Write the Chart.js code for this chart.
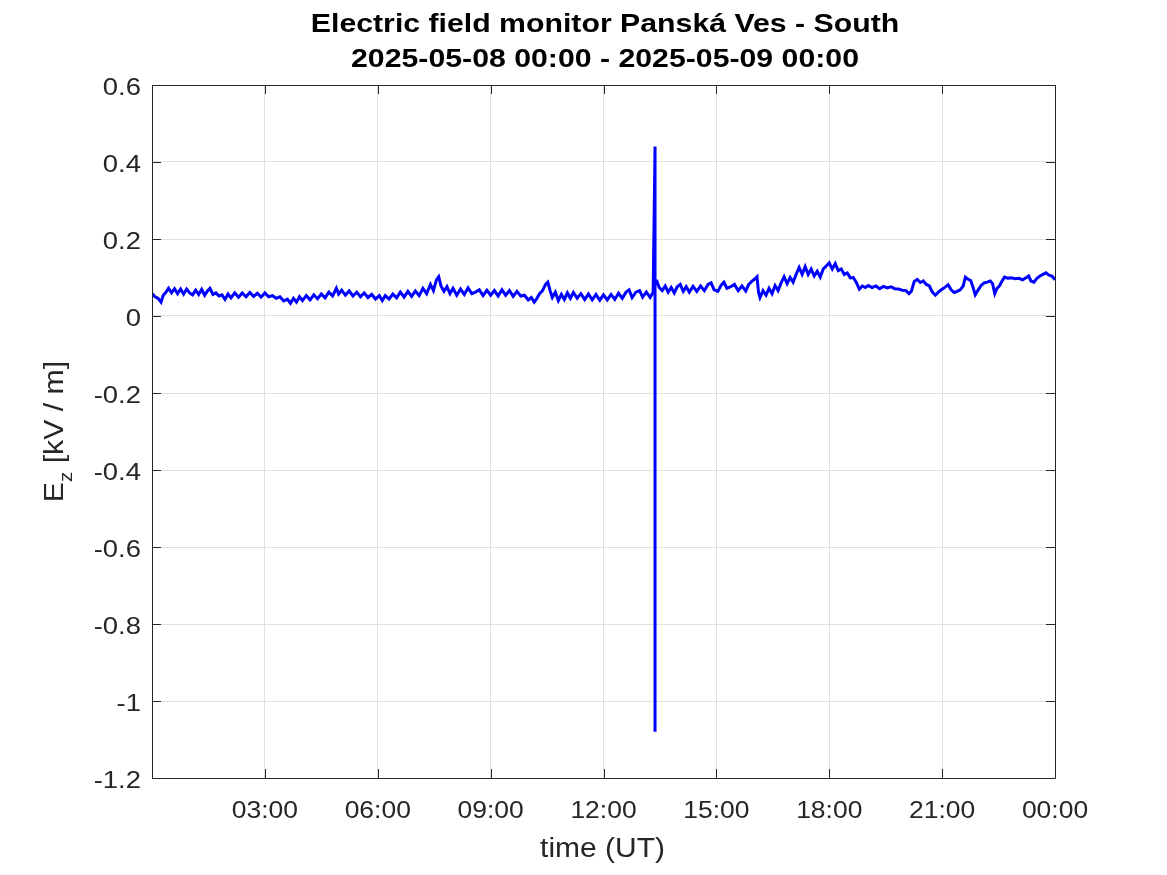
<!DOCTYPE html>
<html>
<head>
<meta charset="utf-8">
<script src="https://cdn.jsdelivr.net/npm/chart.js@4.4.0/dist/chart.umd.min.js"></script>
<style>
  html, body { margin: 0; padding: 0; background: #fff; }
  canvas { display: block; }
</style>
</head>
<body>
<canvas id="efield" width="1167" height="875"></canvas>
<script>
// Title lines
const titleLines = ['Electric field monitor Panská Ves - South', '2025-05-08 00:00 - 2025-05-09 00:00'];
const xTitle = 'time (UT)';

// x in hours since 2025-05-08 00:00 UT, y in kV/m
const hours = [
  0.00, 0.08, 0.16, 0.24, 0.30, 0.36, 0.44, 0.52, 0.60, 0.68, 0.76, 0.84, 0.92, 1.00, 1.08, 1.16, 1.24, 1.32, 1.40, 1.48,
  1.54, 1.62, 1.70, 1.78, 1.86, 1.94, 2.02, 2.10, 2.20, 2.30, 2.40, 2.50, 2.60, 2.70, 2.80, 2.90, 3.00, 3.10, 3.20, 3.30,
  3.40, 3.50, 3.60, 3.68, 3.76, 3.84, 3.92, 4.00, 4.10, 4.20, 4.30, 4.40, 4.50, 4.60, 4.70, 4.80, 4.90, 4.96, 5.04, 5.14,
  5.24, 5.34, 5.44, 5.54, 5.64, 5.74, 5.84, 5.94, 6.04, 6.12, 6.20, 6.30, 6.40, 6.50, 6.60, 6.70, 6.80, 6.90, 7.00, 7.10,
  7.20, 7.30, 7.40, 7.48, 7.56, 7.62, 7.68, 7.76, 7.84, 7.92, 8.00, 8.10, 8.20, 8.30, 8.40, 8.50, 8.60, 8.70, 8.80, 8.90,
  9.00, 9.10, 9.20, 9.30, 9.40, 9.50, 9.60, 9.70, 9.80, 9.90, 10.00, 10.08, 10.16, 10.22, 10.30, 10.38, 10.46, 10.52, 10.58, 10.64,
  10.72, 10.80, 10.88, 10.96, 11.04, 11.12, 11.20, 11.30, 11.40, 11.50, 11.60, 11.70, 11.80, 11.90, 12.00, 12.10, 12.20, 12.30, 12.40, 12.50,
  12.60, 12.68, 12.76, 12.86, 12.96, 13.04, 13.14, 13.24, 13.32, 13.37, 13.37, 13.37, 13.42, 13.48, 13.56, 13.64, 13.72, 13.80, 13.88, 13.96,
  14.04, 14.12, 14.20, 14.28, 14.38, 14.48, 14.58, 14.68, 14.78, 14.86, 14.94, 15.04, 15.12, 15.20, 15.28, 15.38, 15.48, 15.58, 15.68, 15.78,
  15.86, 15.94, 16.02, 16.08, 16.12, 16.16, 16.24, 16.32, 16.40, 16.48, 16.56, 16.64, 16.72, 16.80, 16.88, 16.96, 17.04, 17.12, 17.20, 17.28,
  17.36, 17.44, 17.52, 17.60, 17.68, 17.76, 17.84, 17.92, 18.00, 18.08, 18.16, 18.24, 18.32, 18.40, 18.48, 18.56, 18.64, 18.72, 18.80, 18.88,
  18.96, 19.04, 19.14, 19.24, 19.34, 19.44, 19.54, 19.64, 19.74, 19.84, 19.94, 20.04, 20.12, 20.18, 20.26, 20.34, 20.42, 20.50, 20.58, 20.66,
  20.74, 20.82, 20.90, 20.98, 21.08, 21.16, 21.24, 21.32, 21.40, 21.48, 21.56, 21.62, 21.68, 21.76, 21.82, 21.88, 21.96, 22.04, 22.12, 22.20,
  22.28, 22.34, 22.40, 22.46, 22.52, 22.60, 22.66, 22.74, 22.84, 22.94, 23.04, 23.14, 23.24, 23.30, 23.36, 23.44, 23.52, 23.60, 23.68, 23.76,
  23.84, 23.92, 24.00
];
const ez = [
  0.058, 0.050, 0.046, 0.036, 0.054, 0.060, 0.072, 0.060, 0.071, 0.058, 0.070, 0.057, 0.070, 0.060, 0.055, 0.067, 0.056, 0.069, 0.054, 0.066,
  0.072, 0.056, 0.060, 0.052, 0.055, 0.043, 0.057, 0.047, 0.060, 0.049, 0.060, 0.050, 0.061, 0.051, 0.059, 0.049, 0.060, 0.050, 0.053, 0.046,
  0.050, 0.039, 0.044, 0.033, 0.046, 0.036, 0.050, 0.040, 0.053, 0.042, 0.055, 0.045, 0.057, 0.047, 0.062, 0.052, 0.072, 0.057, 0.067, 0.054,
  0.065, 0.052, 0.062, 0.050, 0.060, 0.048, 0.056, 0.044, 0.053, 0.040, 0.053, 0.044, 0.057, 0.047, 0.062, 0.049, 0.064, 0.051, 0.065, 0.053,
  0.072, 0.058, 0.082, 0.066, 0.094, 0.102, 0.078, 0.064, 0.076, 0.058, 0.072, 0.054, 0.070, 0.056, 0.073, 0.058, 0.062, 0.068, 0.053, 0.067,
  0.054, 0.066, 0.052, 0.068, 0.054, 0.066, 0.051, 0.064, 0.052, 0.054, 0.042, 0.048, 0.036, 0.044, 0.058, 0.066, 0.082, 0.088, 0.066, 0.048,
  0.062, 0.040, 0.056, 0.043, 0.060, 0.046, 0.061, 0.046, 0.058, 0.043, 0.057, 0.042, 0.056, 0.041, 0.055, 0.042, 0.056, 0.043, 0.059, 0.046,
  0.062, 0.068, 0.048, 0.062, 0.066, 0.049, 0.062, 0.048, 0.062, 0.440, -1.080, 0.088, 0.090, 0.074, 0.066, 0.078, 0.062, 0.074, 0.060, 0.076,
  0.082, 0.064, 0.076, 0.062, 0.077, 0.064, 0.078, 0.066, 0.082, 0.086, 0.068, 0.064, 0.079, 0.088, 0.072, 0.076, 0.082, 0.066, 0.078, 0.065,
  0.082, 0.090, 0.096, 0.102, 0.062, 0.048, 0.066, 0.054, 0.072, 0.058, 0.079, 0.066, 0.086, 0.102, 0.084, 0.100, 0.088, 0.108, 0.126, 0.108,
  0.128, 0.108, 0.122, 0.104, 0.116, 0.101, 0.122, 0.130, 0.138, 0.122, 0.136, 0.118, 0.122, 0.108, 0.112, 0.099, 0.100, 0.087, 0.070, 0.078,
  0.074, 0.079, 0.074, 0.078, 0.071, 0.077, 0.073, 0.076, 0.071, 0.070, 0.067, 0.066, 0.058, 0.064, 0.090, 0.095, 0.087, 0.091, 0.082, 0.078,
  0.062, 0.054, 0.062, 0.068, 0.075, 0.081, 0.068, 0.061, 0.064, 0.068, 0.078, 0.101, 0.096, 0.092, 0.075, 0.055, 0.068, 0.080, 0.086, 0.088,
  0.091, 0.084, 0.058, 0.072, 0.078, 0.092, 0.101, 0.098, 0.099, 0.097, 0.098, 0.094, 0.100, 0.104, 0.091, 0.088, 0.098, 0.104, 0.108, 0.112,
  0.106, 0.104, 0.094
];

const yMin = -1.2, yMax = 0.6, yStep = 0.2;
const xMin = 0, xMax = 24, xStep = 3;

const axisColor = '#262626';
const gridColor = '#e0e0e0';
const fontFamily = '"Liberation Sans", Arial, Helvetica, sans-serif';
const stretch = 1.12; // the reference text is a little wider than Arial

function fmtY(v) {
  return String(parseFloat(v.toFixed(1)));
}
function fmtX(h) {
  if (h <= 0) return '';
  const hh = Math.round(h) % 24;
  return (hh < 10 ? '0' : '') + hh + ':00';
}

function wideText(ctx, text, x, y, align, sx) {
  ctx.save();
  ctx.translate(x, y);
  ctx.scale(sx, 1);
  ctx.textAlign = align;
  ctx.fillText(text, 0, 0);
  ctx.restore();
}

// frame, inward tick marks, tick labels, titles and axis labels
const decorations = {
  id: 'decorations',
  afterDraw(chart) {
    const ctx = chart.ctx;
    const a = chart.chartArea;
    const xs = chart.scales.x, ys = chart.scales.y;
    const tl = 9;
    ctx.save();
    ctx.strokeStyle = axisColor;
    ctx.lineWidth = 1;
    ctx.beginPath();
    ctx.rect(Math.round(a.left) + 0.5, Math.round(a.top) + 0.5, Math.round(a.right - a.left), Math.round(a.bottom - a.top));
    xs.ticks.forEach(t => {
      const px = Math.round(xs.getPixelForValue(t.value)) + 0.5;
      ctx.moveTo(px, a.bottom); ctx.lineTo(px, a.bottom - tl);
      ctx.moveTo(px, a.top); ctx.lineTo(px, a.top + tl);
    });
    ys.ticks.forEach(t => {
      const py = Math.round(ys.getPixelForValue(t.value)) + 0.5;
      ctx.moveTo(a.left, py); ctx.lineTo(a.left + tl, py);
      ctx.moveTo(a.right, py); ctx.lineTo(a.right - tl, py);
    });
    ctx.stroke();

    // tick labels
    ctx.fillStyle = axisColor;
    ctx.textBaseline = 'alphabetic';
    ctx.font = '24.5px ' + fontFamily;
    ys.ticks.forEach(t => {
      const py = ys.getPixelForValue(t.value);
      wideText(ctx, fmtY(t.value), a.left - 11, py + 10, 'right', stretch);
    });
    xs.ticks.forEach(t => {
      const px = xs.getPixelForValue(t.value);
      wideText(ctx, fmtX(t.value), px, 818, 'center', 1.08);
    });

    // titles
    const cx = 605;
    ctx.fillStyle = '#000';
    ctx.font = 'bold 25px ' + fontFamily;
    wideText(ctx, titleLines[0], cx, 32, 'center', 1.21);
    wideText(ctx, titleLines[1], cx, 67, 'center', 1.21);

    ctx.fillStyle = axisColor;
    ctx.font = '27px ' + fontFamily;
    wideText(ctx, xTitle, 602.5, 857, 'center', 1.11);

    // y label: E with subscript z
    ctx.translate(63, 431.5);
    ctx.rotate(-Math.PI / 2);
    ctx.scale(1.08, 1);
    ctx.textAlign = 'left';
    const big = '28px ' + fontFamily, small = '19px ' + fontFamily;
    ctx.font = big; const wE = ctx.measureText('E').width;
    ctx.font = small; const wz = ctx.measureText('z').width;
    ctx.font = big; const wRest = ctx.measureText(' [kV / m]').width;
    let x0 = -(wE + wz + wRest) / 2;
    ctx.font = big; ctx.fillText('E', x0, 0); x0 += wE;
    ctx.font = small; ctx.fillText('z', x0, 9); x0 += wz;
    ctx.font = big; ctx.fillText(' [kV / m]', x0, 0);
    ctx.restore();
  }
};

const points = hours.map((h, i) => ({ x: h, y: ez[i] }));

new Chart(document.getElementById('efield'), {
  type: 'line',
  data: {
    datasets: [{
      data: points,
      borderColor: '#0000ff',
      borderWidth: 3,
      pointRadius: 0,
      tension: 0,
      fill: false
    }]
  },
  options: {
    responsive: false,
    animation: false,
    layout: { padding: { top: 85, right: 112, left: 0, bottom: 0 } },
    plugins: {
      legend: { display: false },
      tooltip: { enabled: false },
      title: { display: false }
    },
    scales: {
      x: {
        type: 'linear',
        min: xMin,
        max: xMax,
        afterFit(scale) { scale.height = 97; },
        afterBuildTicks(scale) {
          const t = [];
          for (let h = xMin; h <= xMax; h += xStep) t.push({ value: h });
          scale.ticks = t;
        },
        border: { display: false },
        grid: { color: gridColor, drawTicks: false },
        ticks: { display: false }
      },
      y: {
        min: yMin,
        max: yMax,
        afterFit(scale) { scale.width = 152; },
        border: { display: false },
        grid: { color: gridColor, drawTicks: false },
        ticks: { display: false, stepSize: yStep }
      }
    }
  },
  plugins: [decorations]
});
</script>
</body>
</html>
